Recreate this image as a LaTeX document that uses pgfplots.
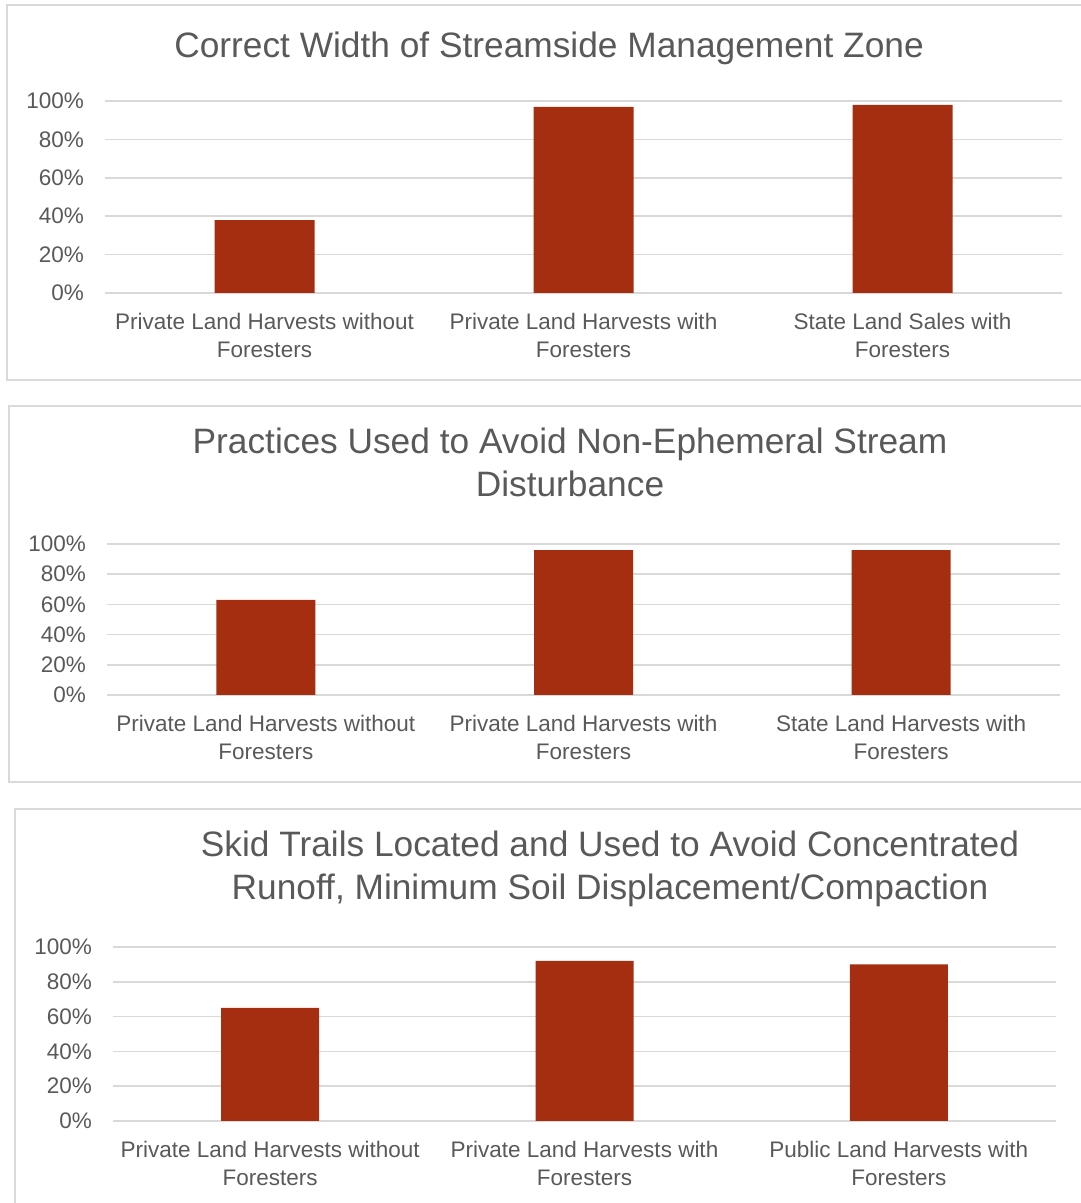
\documentclass[border=0pt]{standalone}
\usepackage{pgfplots}
\pgfplotsset{compat=1.18}
\usepackage{fontspec}
\setmainfont{Liberation Sans}

\definecolor{barred}{RGB}{165,46,17}
\definecolor{txtgray}{RGB}{89,89,89}
\definecolor{gridgray}{RGB}{217,217,217}

\pgfplotsset{
  bmpchart/.style={
    scale only axis, anchor=south west,
    ybar, bar shift=0pt,
    ymin=0, ymax=1, xmin=-0.5, xmax=2.5,
    ytick={0,0.2,0.4,0.6,0.8,1},
    yticklabels={0\%,20\%,40\%,60\%,80\%,100\%},
    xtick={0,1,2},
    ymajorgrids, grid style={gridgray, line width=1.5pt},
    axis line style={draw=none},
    major tick length=0pt,
    tick label style={font=\fontsize{22.5}{28}\selectfont, text=txtgray},
    yticklabel style={anchor=east, inner sep=0pt, xshift=-21pt},
    xticklabel style={anchor=north, align=center, inner sep=0pt, yshift=-20pt},
  }
}

\begin{document}
\begin{tikzpicture}[x=1pt, y=1pt]
\useasboundingbox (0,0) rectangle (1081,1203);

% frames round the three charts
\draw[gridgray, line width=2pt] (1081,1198) -- (7,1198) -- (7,823) -- (1081,823);
\draw[gridgray, line width=2pt] (1081,797) -- (9,797) -- (9,421) -- (1081,421);
\draw[gridgray, line width=2pt] (1081,394) -- (15,394) -- (15,-2);

% chart 1
\begin{axis}[bmpchart, at={(105pt,910pt)}, width=957pt, height=192pt, bar width=100pt,
  xticklabels={{Private Land Harvests without\\Foresters},
               {Private Land Harvests with\\Foresters},
               {State Land Sales with\\Foresters}}]
\addplot[fill=barred, draw=none] coordinates {(0,0.38) (1,0.97) (2,0.98)};
\end{axis}
\node[font=\fontsize{35.3}{43}\selectfont, text=txtgray] at (549pt,1155pt)
  {Correct Width of Streamside Management Zone};

% chart 2
\begin{axis}[bmpchart, at={(107pt,508pt)}, width=953pt, height=151pt, bar width=99pt,
  xticklabels={{Private Land Harvests without\\Foresters},
               {Private Land Harvests with\\Foresters},
               {State Land Harvests with\\Foresters}}]
\addplot[fill=barred, draw=none] coordinates {(0,0.63) (1,0.96) (2,0.96)};
\end{axis}
\node[font=\fontsize{35.3}{43}\selectfont, text=txtgray, align=center] at (570pt,740.5pt)
  {Practices Used to Avoid Non-Ephemeral Stream\\Disturbance};

% chart 3
\begin{axis}[bmpchart, at={(113pt,82pt)}, width=943pt, height=174pt, bar width=98pt,
  xticklabels={{Private Land Harvests without\\Foresters},
               {Private Land Harvests with\\Foresters},
               {Public Land Harvests with\\Foresters}}]
\addplot[fill=barred, draw=none] coordinates {(0,0.65) (1,0.92) (2,0.90)};
\end{axis}
\node[font=\fontsize{35.3}{43}\selectfont, text=txtgray, align=center] at (610pt,334pt)
  {Skid Trails Located and Used to Avoid Concentrated\\Runoff, Minimum Soil Displacement/Compaction};

\end{tikzpicture}
\end{document}
